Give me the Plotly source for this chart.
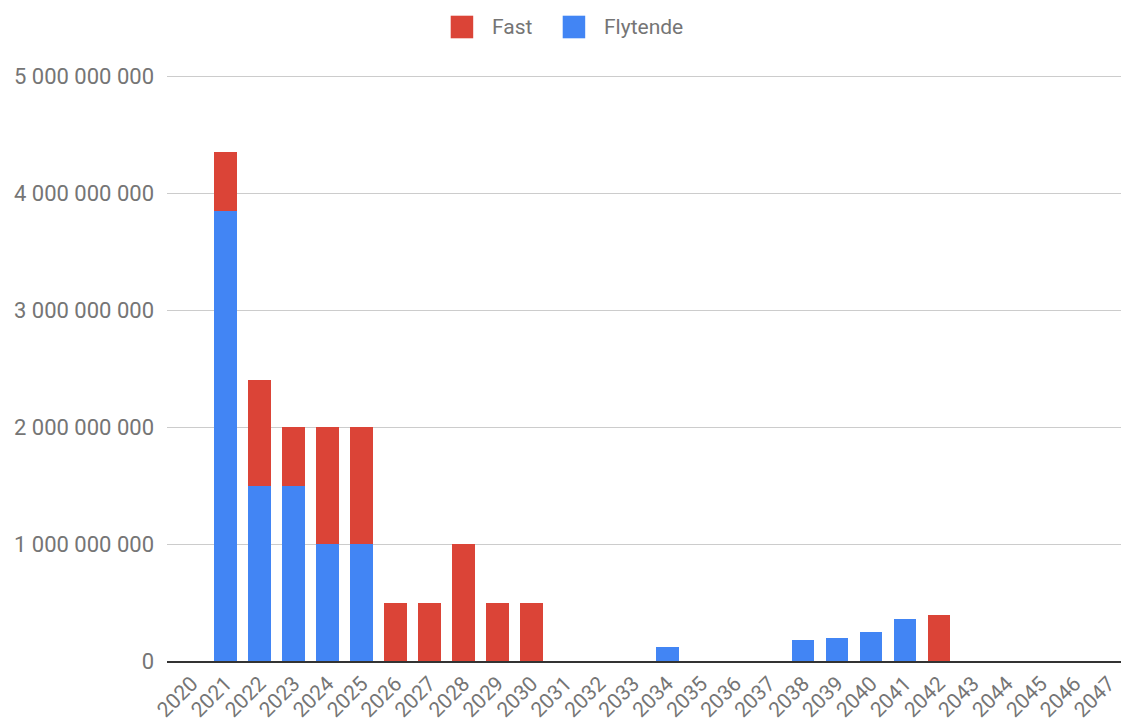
import plotly.graph_objects as go

years = [str(y) for y in range(2020, 2048)]
flytende = [0, 3.85e9, 1.5e9, 1.5e9, 1.0e9, 1.0e9, 0, 0, 0, 0, 0, 0, 0, 0, 0.12e9, 0, 0, 0,
            0.18e9, 0.2e9, 0.25e9, 0.36e9, 0, 0, 0, 0, 0, 0]
fast = [0, 0.5e9, 0.9e9, 0.5e9, 1.0e9, 1.0e9, 0.5e9, 0.5e9, 1.0e9, 0.5e9, 0.5e9, 0, 0, 0, 0, 0, 0, 0,
        0, 0, 0, 0, 0.39e9, 0, 0, 0, 0, 0]
colors = {"Fast": "#DB4437", "Flytende": "#4285F4"}
ytick_vals = [0, 1e9, 2e9, 3e9, 4e9, 5e9]

font_family = "Roboto, Arial, sans-serif"
grey = "#757575"

W, H = 1121, 722
ML, MT, MB = 167, 74, 61

fig = go.Figure()
fig.add_trace(go.Bar(x=years, y=flytende, name="Flytende", marker_color=colors["Flytende"],
                     marker_line_width=0, showlegend=False))
fig.add_trace(go.Bar(x=years, y=fast, name="Fast", marker_color=colors["Fast"],
                     marker_line_width=0, showlegend=False))


def fx(p):
    return (p - ML) / (W - ML)


def fy(p):
    return (H - MB - p) / (H - MB - MT)


# legend drawn with large square swatches
legend_items = [("Fast", 450.7, 490), ("Flytende", 562.7, 601.5)]
for name, sx, tx in legend_items:
    fig.add_shape(type="rect", xref="paper", yref="paper",
                  x0=fx(sx), x1=fx(sx + 22.5), y0=fy(38.3), y1=fy(15.7),
                  line_width=0, fillcolor=colors[name], layer="above")
    fig.add_annotation(xref="paper", yref="paper", x=fx(tx), y=fy(27), text=name,
                       showarrow=False, xanchor="left", yanchor="middle",
                       font=dict(family=font_family, size=21, color=grey))

fig.update_layout(
    barmode="stack",
    bargap=0.33,
    width=W, height=H,
    margin=dict(l=ML, r=0, t=MT, b=MB, autoexpand=False),
    plot_bgcolor="white", paper_bgcolor="white",
    separators=", ",
    font=dict(family=font_family, color=grey),
    xaxis=dict(
        type="category", categoryorder="array", categoryarray=years,
        range=[-0.73, 27.36],
        tickangle=-45, tickfont=dict(size=21, color=grey),
        showgrid=False, showline=True, linecolor="#333333", linewidth=2,
        ticks="",
    ),
    yaxis=dict(
        range=[0, 5.0171e9], tickvals=ytick_vals, tickformat=",.0f",
        tickfont=dict(size=22, color=grey),
        showgrid=True, gridcolor="#CCCCCC", gridwidth=1,
        zeroline=False, ticklabelstandoff=12,
    ),
)

fig.write_html("out.html")
